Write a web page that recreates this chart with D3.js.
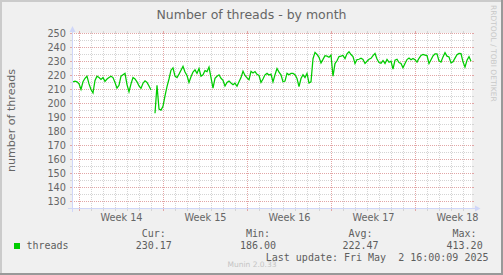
<!doctype html>
<html lang="en">
<head>
<meta charset="utf-8">
<title>Number of threads - by month</title>
<script src="https://cdn.jsdelivr.net/npm/d3@7"></script>
<style>
    body { margin: 0; }
    svg { display: block; }
    text { font-family: "DejaVu Sans", sans-serif; fill: #666666; }
    .mono { font-family: "DejaVu Sans Mono", monospace; fill: #5E5E5E; }
</style>
</head>
<body>
<svg></svg>
<script>
    var width = 503;
    var height = 275;

    // graph ends at last update, munin month view covers 800 hours
    var lastUpdate = new Date(2025, 4, 2, 16, 0, 9);
    var spanHours = 800;
    var stepHours = 4;      // one sample every 4 hours
    var firstSampleHours = 3;

    // threads (null = gap in the data)
    var threads = [
        215.5, 216, 215.5, 214, 210, 215.5, 218, 219.5, 214, 210,
        207.5, 216.5, 219.5, 218.5, 217.2, 218.5, 215.8, 217.5, 218.5, 219.5,
        218.5, 215, 211, 213, 219.5, 220.5, 221.5, 213.5, 208.4, 214,
        218.5, 217.5, 215.5, 212.5, 210.8, 214.5, 216.2, 215, 212.5, 209.6,
        null, 193, 213, 196, 195.3, 198, 205.5, 212, 217.5, 223.8,
        225.5, 219.5, 218.5, 221, 223.8, 226.5, 222.5, 220, 215, 219.1,
        222.5, 224, 221.5, 225, 219.5, 220.5, 223.5, 222.8, 226, 218.5,
        211, 218, 219.5, 220.5, 218, 216.5, 212.5, 215, 216, 214.6,
        213.4, 214.5, 212.3, 215.5, 218.5, 223, 220, 218.3, 217, 223,
        221.8, 222.8, 220.8, 220, 215, 217.5, 220.5, 221.5, 220.3, 221,
        215.5, 220.5, 225, 222.4, 220.5, 215.5, 216, 221.5, 220.5, 221.5,
        221.5, 220.5, 217.9, 212, 217.8, 220.5, 218.5, 221.5, 214.6, 215.5,
        232, 236.5, 235, 233, 229, 231.5, 234.2, 233.8, 233, 234.5,
        219.5, 228.5, 230.5, 233.5, 233.8, 234.3, 232.1, 235.5, 237, 235,
        233.5, 228.6, 231.4, 231.6, 232.3, 231.5, 228.6, 230.2, 231.6, 232.3,
        234.2, 235.7, 231.8, 229.3, 228.8, 230.7, 228.6, 231.5, 229.5, 230.3,
        224.5, 231, 231.6, 229.3, 228.6, 225.5, 228.6, 231.4, 232.5, 231.3,
        232.2, 231.3, 229.6, 232.3, 234.3, 235, 234.6, 234.2, 228.6, 231.3,
        234, 235.4, 235.5, 230.5, 229.6, 233.3, 236.3, 233.8, 233.2, 229,
        229.8, 232.4, 234.8, 235.8, 235.6, 229.8, 226, 230.9, 233.5, 230.17
    ];

    var yTicks = [130, 140, 150, 160, 170, 180, 190, 200, 210, 220, 230, 240, 250];
    var weekStarts = ["2025-03-31", "2025-04-07", "2025-04-14", "2025-04-21", "2025-04-28"];
    var weekLabels = ["Week 14", "Week 15", "Week 16", "Week 17", "Week 18"];

    var legendHeads = ["Cur:", "Min:", "Avg:", "Max:"];
    var legendValues = ["230.17", "186.00", "222.47", "413.20"];
    var legendCols = [153.7, 258, 360.5, 464.6];

    var hour = 3600 * 1000;
    var end = lastUpdate;
    var start = new Date(end.getTime() - spanHours * hour);
    var parseDay = d3.timeParse("%Y-%m-%d");

    var dataset = threads.map(function (v, i) {
        return { t: new Date(start.getTime() + (firstSampleHours + i * stepHours) * hour), v: v };
    });

    var xScale = d3.scaleTime().domain([start, end]).range([71.5, 471.5]);
    var yScale = d3.scaleLinear().domain([125, 250]).range([208.5, 33.5]);
    var x0 = 72, x1 = 472, yTop = 33, yBottom = 208;

    var svg = d3.select("svg").attr("width", width).attr("height", height);

    // background and 3d frame
    svg.append("rect").attr("width", width).attr("height", height).attr("fill", "#F0F0F0");
    svg.append("rect").attr("x", 0).attr("y", 0).attr("width", width).attr("height", 2).attr("fill", "#CBCBCB");
    svg.append("rect").attr("x", 0).attr("y", 0).attr("width", 2).attr("height", height).attr("fill", "#CBCBCB");
    svg.append("rect").attr("x", width - 2).attr("y", 0).attr("width", 2).attr("height", height).attr("fill", "#999999");
    svg.append("rect").attr("x", 0).attr("y", height - 2).attr("width", width).attr("height", 2).attr("fill", "#999999");

    // canvas
    svg.append("rect").attr("x", x0).attr("y", yTop).attr("width", x1 - x0).attr("height", yBottom - yTop + 1)
        .attr("fill", "#FFFFFF");

    // horizontal grid, every 5 units, red on labelled values
    var hLines = d3.range(130, 251, 5);
    var hGrid = svg.append("g");
    hLines.forEach(function (v) {
        var y = yScale(v);
        var col = v % 10 === 0 ? "#E2A6A6" : "#D4D4D4";
        hGrid.append("line").attr("x1", x0).attr("x2", x1).attr("y1", y).attr("y2", y)
            .attr("stroke", col).attr("stroke-dasharray", "1,1");
        hGrid.append("line").attr("x1", x0 - 2).attr("x2", x0).attr("y1", y).attr("y2", y).attr("stroke", col);
        hGrid.append("line").attr("x1", x1).attr("x2", x1 + 2).attr("y1", y).attr("y2", y).attr("stroke", col);
    });

    // vertical grid, every day, red on mondays
    var vGrid = svg.append("g");
    d3.timeDay.range(d3.timeDay.ceil(start), end).forEach(function (d) {
        var x = Math.floor(xScale(d)) + 0.5;
        var col = d.getDay() === 1 ? "#E2A6A6" : "#D4D4D4";
        vGrid.append("line").attr("x1", x).attr("x2", x).attr("y1", yTop).attr("y2", yBottom)
            .attr("stroke", col).attr("stroke-dasharray", "1,1");
        vGrid.append("line").attr("x1", x).attr("x2", x).attr("y1", yBottom).attr("y2", yBottom + 3).attr("stroke", col);
        vGrid.append("line").attr("x1", x).attr("x2", x).attr("y1", yTop - 2).attr("y2", yTop).attr("stroke", col);
    });

    // the threads line
    var line = d3.line()
        .defined(function (d) { return d.v != null; })
        .x(function (d) { return xScale(d.t); })
        .y(function (d) { return yScale(d.v); });

    svg.append("path").datum(dataset)
        .attr("d", line)
        .attr("fill", "none")
        .attr("stroke", "#00CC00")
        .attr("stroke-width", 1.25);

    // axes with arrows
    var axisCol = "#CFD6F8";
    svg.append("line").attr("x1", x0 - 4).attr("x2", x1 + 4).attr("y1", yBottom + 0.5).attr("y2", yBottom + 0.5)
        .attr("stroke", axisCol);
    svg.append("line").attr("x1", x0 + 0.5).attr("x2", x0 + 0.5).attr("y1", yBottom + 4).attr("y2", yTop - 4)
        .attr("stroke", axisCol);
    svg.append("path").attr("d", "M475,205.5L480.5,208.5L475,211.5Z").attr("fill", axisCol);
    svg.append("path").attr("d", "M69.5,32L72.5,26L75.5,32Z").attr("fill", axisCol);

    // y tick labels
    svg.append("g").selectAll("text")
        .data(yTicks)
        .enter()
        .append("text")
        .attr("x", 66)
        .attr("y", function (d) { return yScale(d) + 3.5; })
        .attr("text-anchor", "end")
        .attr("font-size", "9.72px")
        .text(function (d) { return d; });

    // x labels, centred in each week
    svg.append("g").selectAll("text")
        .data(weekStarts)
        .enter()
        .append("text")
        .attr("x", function (d) { return xScale(d3.timeHour.offset(parseDay(d), 84)); })
        .attr("y", 221)
        .attr("text-anchor", "middle")
        .attr("font-size", "9.72px")
        .text(function (d, i) { return weekLabels[i]; });

    // title and unit
    svg.append("text").attr("x", 251.5).attr("y", 18.5).attr("text-anchor", "middle")
        .attr("font-size", "12.5px").text("Number of threads - by month");
    svg.append("text").attr("transform", "translate(15,120.5) rotate(-90)").attr("text-anchor", "middle")
        .attr("font-size", "11.1px").text("number of threads");

    // legend
    svg.append("rect").attr("x", 14).attr("y", 243).attr("width", 6).attr("height", 6).attr("fill", "#00CC00");
    svg.append("text").attr("class", "mono").attr("x", 26.5).attr("y", 248.5)
        .attr("font-size", "10px").text("threads");

    var legend = svg.append("g").attr("class", "mono").attr("font-size", "10px").attr("text-anchor", "middle");
    legend.selectAll(".head").data(legendHeads).enter().append("text")
        .attr("class", "mono head")
        .attr("x", function (d, i) { return legendCols[i]; })
        .attr("y", 236.5)
        .text(function (d) { return d; });
    legend.selectAll(".val").data(legendValues).enter().append("text")
        .attr("class", "mono val")
        .attr("x", function (d, i) { return legendCols[i]; })
        .attr("y", 248.5)
        .text(function (d) { return d; });

    svg.append("text").attr("class", "mono").attr("x", 488.5).attr("y", 260.5).attr("text-anchor", "end")
        .attr("font-size", "10px").attr("xml:space", "preserve").style("white-space", "pre")
        .text("Last update: Fri May  2 16:00:09 2025");

    // watermark and signature
    svg.append("text").attr("x", 252).attr("y", 266.5).attr("text-anchor", "middle")
        .attr("font-size", "7.5px").style("fill", "#C4C4C4").text("Munin 2.0.33");
    svg.append("text").attr("transform", "translate(490.5,5) rotate(90)")
        .attr("font-size", "7.5px").style("fill", "#C8C8C8").text("RRDTOOL / TOBI OETIKER");
</script>
</body>
</html>
